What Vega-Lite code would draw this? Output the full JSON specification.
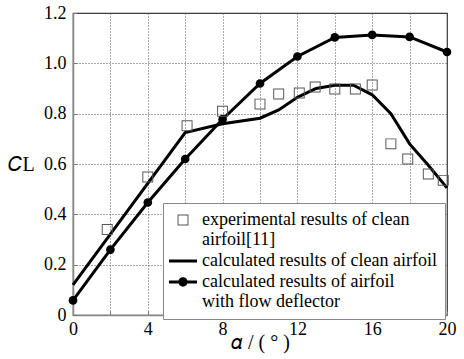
{
  "$schema": "https://vega.github.io/schema/vega-lite/v6.json",
  "width": 374,
  "height": 302,
  "autosize": {"type": "none"},
  "padding": {"left": 73, "top": 13, "right": 17, "bottom": 44},
  "background": "white",
  "config": {
    "view": {"stroke": "#333", "strokeWidth": 1.2},
    "font": "Liberation Serif",
    "axis": {
      "labelFont": "Liberation Serif", "titleFont": "Liberation Serif",
      "gridColor": "#555", "gridDash": [1, 2], "gridWidth": 1,
      "domainColor": "#888", "domainWidth": 1.5,
      "tickColor": "#777", "tickWidth": 1
    },
    "legend": {
      "title": null, "orient": "none", "legendX": 90, "legendY": 190,
      "fillColor": "white", "strokeColor": "#888", "padding": 8,
      "symbolSize": 225, "symbolOffset": 3, "symbolOpacity": 1, "symbolStrokeWidth": 0,
      "labelFont": "Liberation Serif", "labelFontSize": 18, "labelColor": "black",
      "labelLimit": 400, "labelOffset": 10, "rowPadding": 3, "labelBaseline": "middle"
    }
  },
  "datasets": {
    "exp": [
      {"alpha": 1.83, "cl": 0.34, "series": "exp"},
      {"alpha": 4.0, "cl": 0.548, "series": "exp"},
      {"alpha": 6.1, "cl": 0.752, "series": "exp"},
      {"alpha": 8.0, "cl": 0.81, "series": "exp"},
      {"alpha": 10.0, "cl": 0.838, "series": "exp"},
      {"alpha": 11.0, "cl": 0.878, "series": "exp"},
      {"alpha": 12.1, "cl": 0.882, "series": "exp"},
      {"alpha": 12.95, "cl": 0.906, "series": "exp"},
      {"alpha": 14.0, "cl": 0.898, "series": "exp"},
      {"alpha": 15.1, "cl": 0.898, "series": "exp"},
      {"alpha": 16.0, "cl": 0.914, "series": "exp"},
      {"alpha": 17.0, "cl": 0.68, "series": "exp"},
      {"alpha": 17.9, "cl": 0.62, "series": "exp"},
      {"alpha": 19.0, "cl": 0.56, "series": "exp"},
      {"alpha": 19.8, "cl": 0.535, "series": "exp"}
    ],
    "clean": [
      {"alpha": 0, "cl": 0.12},
      {"alpha": 6, "cl": 0.725},
      {"alpha": 8, "cl": 0.76},
      {"alpha": 10, "cl": 0.782},
      {"alpha": 11, "cl": 0.815},
      {"alpha": 12, "cl": 0.865},
      {"alpha": 13, "cl": 0.9},
      {"alpha": 14, "cl": 0.913},
      {"alpha": 15, "cl": 0.913},
      {"alpha": 16, "cl": 0.875},
      {"alpha": 17, "cl": 0.8},
      {"alpha": 18, "cl": 0.68},
      {"alpha": 19, "cl": 0.595},
      {"alpha": 20, "cl": 0.505}
    ],
    "defl": [
      {"alpha": 0, "cl": 0.058},
      {"alpha": 2, "cl": 0.26},
      {"alpha": 4, "cl": 0.447},
      {"alpha": 6, "cl": 0.62},
      {"alpha": 8, "cl": 0.778},
      {"alpha": 10, "cl": 0.92},
      {"alpha": 12, "cl": 1.027},
      {"alpha": 14, "cl": 1.103},
      {"alpha": 16, "cl": 1.113},
      {"alpha": 18, "cl": 1.105},
      {"alpha": 20, "cl": 1.045}
    ]
  },
  "encoding": {
    "x": {
      "field": "alpha", "type": "quantitative",
      "scale": {"domain": [0, 20], "nice": false, "zero": false},
      "axis": {
        "values": [0, 2, 4, 6, 8, 10, 12, 14, 16, 18, 20],
        "labelExpr": "datum.value % 4 == 0 ? datum.label : ''",
        "grid": true, "gridColor": "#555", "gridDash": [1, 2],
        "ticks": true, "tickSize": -4, "tickColor": "#777",
        "domainColor": "#888", "domainWidth": 1.5,
        "labelFont": "Liberation Serif", "labelFontSize": 18, "labelColor": "black",
        "labelPadding": 9, "labelFlush": false,
        "title": "𝛼 / ( ° )", "titleY": 33, "titleBaseline": "alphabetic",
        "titleFont": "Liberation Serif", "titleFontSize": 20, "titleFontWeight": "normal", "titleColor": "black"
      }
    },
    "y": {
      "field": "cl", "type": "quantitative",
      "scale": {"domain": [0, 1.2], "nice": false},
      "axis": {
        "values": [0, 0.2, 0.4, 0.6, 0.8, 1.0, 1.2],
        "labelExpr": "datum.value == 0 ? '0' : format(datum.value, '.1f')",
        "grid": true, "gridColor": "#555", "gridDash": [1, 2],
        "ticks": true, "tickSize": -4, "tickColor": "#777",
        "domainColor": "#888", "domainWidth": 1.5,
        "labelFont": "Liberation Serif", "labelFontSize": 18, "labelColor": "black",
        "labelPadding": 11, "labelFlush": false,
        "title": "𝐶L", "titleAngle": 0, "titleX": -52, "titleY": 151,
        "titleAlign": "center", "titleBaseline": "middle",
        "titleFont": "Liberation Serif", "titleFontSize": 20, "titleFontWeight": "normal", "titleColor": "black"
      }
    }
  },
  "layer": [
    {
      "data": {"name": "clean"},
      "mark": {"type": "line", "color": "black", "strokeWidth": 3}
    },
    {
      "data": {"name": "defl"},
      "mark": {"type": "line", "color": "black", "strokeWidth": 3, "point": {"filled": true, "size": 75, "color": "black", "opacity": 1}}
    },
    {
      "data": {"name": "exp"},
      "mark": {"type": "point", "filled": true, "strokeWidth": 0, "size": 225, "opacity": 1},
      "encoding": {
        "fill": {
          "field": "series", "type": "nominal",
          "scale": {"domain": ["exp", "clean", "defl"], "range": ["#555", "black", "black"]},
          "legend": {
            "labelExpr": "datum.value == 'exp' ? ['experimental results of clean', 'airfoil[11]'] : datum.value == 'clean' ? 'calculated results of clean airfoil' : ['calculated results of airfoil', 'with flow deflector']"
          }
        },
        "shape": {
          "field": "series", "type": "nominal",
          "scale": {
            "domain": ["exp", "clean", "defl"],
            "range": [
              "M-0.73,-0.73H0.73V0.73H-0.73Z M-0.6,-0.6V0.6H0.6V-0.6Z",
              "M-1.87,-0.2H1.87V0.2H-1.87Z",
              "M-1.87,-0.2H1.87V0.2H-1.87Z M-0.62,0A0.62,0.62,0,1,1,0.62,0A0.62,0.62,0,1,1,-0.62,0Z"
            ]
          },
          "legend": {
            "labelExpr": "datum.value == 'exp' ? ['experimental results of clean', 'airfoil[11]'] : datum.value == 'clean' ? 'calculated results of clean airfoil' : ['calculated results of airfoil', 'with flow deflector']"
          }
        }
      }
    }
  ]
}
